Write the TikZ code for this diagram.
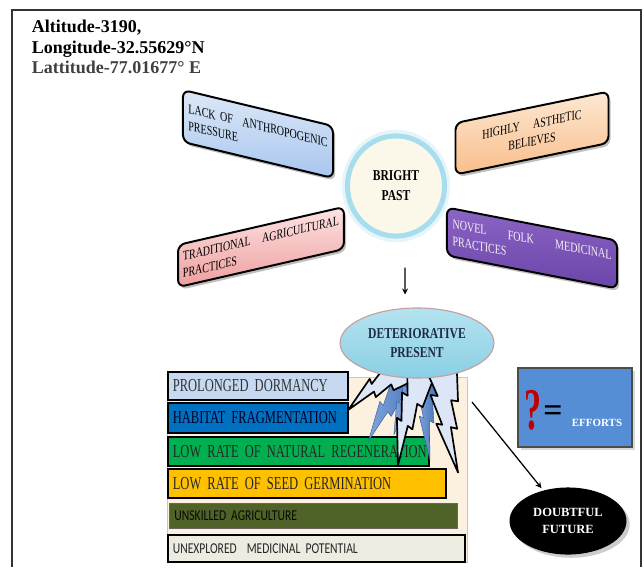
\documentclass[tikz,border=0pt]{standalone}
\usepackage{fontspec}
\setmainfont{Liberation Serif}
\newfontfamily\boxfont[FakeStretch=0.75, WordSpace=0.75]{Liberation Serif}
\newfontfamily\condfont[FakeStretch=0.77]{Liberation Serif}
\newfontfamily\barfont[FakeStretch=0.685, WordSpace=0.7]{Liberation Serif}
\newfontfamily\barsans[FakeStretch=0.77, WordSpace=0.75]{Carlito}
\usetikzlibrary{shapes.geometric,shadows}

\definecolor{lackblue1}{HTML}{DCE8F8}
\definecolor{lackblue2}{HTML}{A9C6EE}
\definecolor{peach1}{HTML}{FDE8D3}
\definecolor{peach2}{HTML}{F8BE8A}
\definecolor{pink1}{HTML}{FDE3E3}
\definecolor{pink2}{HTML}{EE9E9E}
\definecolor{purple1}{HTML}{8B64C4}
\definecolor{purple2}{HTML}{6B45A8}
\definecolor{ivory}{HTML}{FBF8EA}
\definecolor{glowblue}{HTML}{A8DDEE}
\definecolor{detblue1}{HTML}{B4E3F0}
\definecolor{detblue2}{HTML}{8ACFE4}
\definecolor{detnavy}{HTML}{1F2A44}
\definecolor{cream}{HTML}{FCF1DE}
\definecolor{dormblue}{HTML}{C6D9F1}
\definecolor{habblue}{HTML}{0070C0}
\definecolor{regreen}{HTML}{00B050}
\definecolor{seedgold}{HTML}{FFC000}
\definecolor{agrolive}{HTML}{4F6228}
\definecolor{palegray}{HTML}{EEECE1}
\definecolor{effblue}{HTML}{558ED5}
\definecolor{qred}{HTML}{C00000}
\definecolor{zapwhite}{HTML}{DCE6F7}
\definecolor{zapblue}{HTML}{4A80D0}

\begin{document}
\begin{tikzpicture}[x=0.025cm, y=-0.025cm, >=stealth,
    tiltbox/.style={draw=black, line width=1.4pt, rounded corners=5pt, inner xsep=3.5pt,
      drop shadow={opacity=0.5, shadow xshift=1.5pt, shadow yshift=-2pt},
      font=\boxfont\fontsize{9.5}{12}\selectfont},
    barbox/.style={draw=black, line width=1.1pt, anchor=west, inner xsep=3.6pt, inner ysep=0pt,
      align=left, font=\barfont\fontsize{13}{14}\selectfont},
    zapw/.style={fill=zapwhite, draw=black, line width=1.2pt, line join=round},
    zapb/.style={left color=zapblue!70, right color=zapblue!85!black, draw=zapblue!70!black, line width=0.3pt, line join=round}]
    \useasboundingbox (0,0) rectangle (644,567);

    % Frame
    \draw[line width=0.8pt, black!80] (12,567) -- (12,10) -- (641,10) -- (641,567);

    % Site data
    \node[anchor=base west, font=\bfseries\fontsize{12.8}{14.6}\selectfont] (alt) at (27,32) {Altitude-3190,};
    \node[anchor=base west, font=\bfseries\fontsize{12.8}{14.6}\selectfont] (lon) at (27,53) {Longitude-32.55629°N};
    \node[anchor=base west, font=\bfseries\fontsize{12.8}{14.6}\selectfont, text=black!75] (lat) at (27,73) {Lattitude-77.01677° E};

    % Bright past and its four boxes
    \node[tiltbox, yslant=-0.24, top color=lackblue1, bottom color=lackblue2,
      minimum width=106.7pt, minimum height=37pt, text width=99pt, align=left] (lack) at (258,134)
      {LACK OF\hfill ANTHROPOGENIC\\PRESSURE};
    \node[tiltbox, yslant=0.206, top color=peach1, bottom color=peach2,
      minimum width=108.8pt, minimum height=36.6pt, text width=100pt, align=center] (asthetic) at (532,133)
      {HIGHLY\quad ASTHETIC\\BELIEVES};
    \node[tiltbox, yslant=0.229, top color=pink1, bottom color=pink2,
      minimum width=118pt, minimum height=30pt, text width=111pt, align=left] (tradition) at (261,247)
      {TRADITIONAL\hfill AGRICULTURAL\\PRACTICES};
    \node[tiltbox, yslant=-0.194, top color=purple1, bottom color=purple2, text=white!92!purple1,
      minimum width=121pt, minimum height=34.1pt, text width=113pt, align=left] (folk) at (532,248)
      {NOVEL\hfill FOLK\hfill MEDICINAL\\PRACTICES};

    \draw[glowblue!30, line width=6pt] (396,186) ellipse (50 and 52);
    \node[ellipse, fill=ivory, draw=glowblue, line width=3.6pt, inner sep=0pt,
      minimum width=69pt, minimum height=71.2pt, align=center,
      font=\condfont\bfseries\fontsize{10.7}{14.2}\selectfont] (bright) at (396,186) {BRIGHT\\PAST};

    % Causes
    \draw[fill=cream, draw=gray!45] (167,377) rectangle (467,562);
    \node[barbox, fill=dormblue, text=black!80, text width=120.9pt, minimum height=19.9pt] (dorm) at (167,386) {PROLONGED DORMANCY};
    \node[barbox, fill=habblue, text=black!85!blue, text width=120.9pt, minimum height=21.3pt] (habitat) at (167,418) {HABITAT FRAGMENTATION};
    \node[barbox, fill=regreen, text=black!85, text width=178.5pt, minimum height=20.6pt] (regen) at (167,451.5) {\mbox{LOW RATE OF NATURAL REGENERATION}};
    \node[barbox, fill=seedgold, text=black!85, text width=190.6pt, minimum height=20.6pt] (seed) at (167,483.5) {LOW RATE OF SEED GERMINATION};
    \node[barbox, fill=agrolive, draw=black!60, line width=0.6pt, text=black!90!agrolive, text width=197.7pt, minimum height=17.8pt,
      font=\barsans\fontsize{10.7}{13}\selectfont] (agri) at (169,515.5) {UNSKILLED AGRICULTURE};
    \node[barbox, fill=palegray, text=black!85, text width=204.1pt, minimum height=19.2pt,
      font=\barsans\fontsize{10.7}{13}\selectfont] (medic) at (167,548.5) {UNEXPLORED\ \ MEDICINAL POTENTIAL};

    % Efforts
    \node[draw=black!70, fill=effblue, line width=0.8pt, minimum width=81.1pt, minimum height=56.2pt,
      drop shadow={opacity=0.3}] (effort) at (575,407.5) {};
    \node[text=qred, font=\condfont\bfseries\fontsize{42}{42}\selectfont, xscale=0.75] (quest) at (533,410) {?};
    \node[font=\bfseries\fontsize{24}{24}\selectfont] (equal) at (553,414) {=};
    \node[text=white, font=\bfseries\fontsize{7.8}{9}\selectfont] (efftext) at (597,423) {EFFORTS};

    % Lightning
    \foreach \sx/\sy/\ang/\len/\wid in {413/372/237.1/82/85, 420/374/246.7/66/75, 428/368/271.2/92/70}
    {
        \begin{scope}[shift={(\sx,\sy)}, rotate=\ang, xscale=\len, yscale=\wid]
            \path[zapb] (0.05,-0.17) -- (0.35,-0.125) -- (0.33,-0.055) -- (0.60,-0.068) -- (0.575,-0.006) -- (1,0)
                -- (0.52,0.14) -- (0.54,0.08) -- (0.25,0.15) -- (0.27,0.077) -- (-0.05,0.17) -- cycle;
        \end{scope}
    }
    \foreach \sx/\sy/\ang/\len/\wid in {408/366/216.3/74/88, 420/372/256.7/96/85, 440/366/279.6/108/95}
    {
        \begin{scope}[shift={(\sx,\sy)}, rotate=\ang, xscale=\len, yscale=\wid]
            \path[zapw] (0.05,-0.17) -- (0.35,-0.125) -- (0.33,-0.055) -- (0.60,-0.068) -- (0.575,-0.006) -- (1,0)
                -- (0.52,0.14) -- (0.54,0.08) -- (0.25,0.15) -- (0.27,0.077) -- (-0.05,0.17) -- cycle;
        \end{scope}
    }

    % Present and future
    \node[ellipse, top color=detblue1, bottom color=detblue2, draw=red!25!gray!60, line width=0.8pt,
      minimum width=109.5pt, minimum height=49.8pt, align=center, text=detnavy,
      font=\condfont\bfseries\fontsize{10.7}{14}\selectfont] (det) at (417,343) {DETERIORATIVE\\PRESENT};
    \draw[->, line width=0.9pt] ([xshift=6.4pt, yshift=-20.6pt]bright.south) -- ([xshift=-8.5pt, yshift=9.2pt]det.north);

    \node[ellipse, fill=black, minimum width=83.2pt, minimum height=47.7pt, align=center, text=white,
      drop shadow={opacity=0.4}, font=\bfseries\fontsize{8.9}{12.5}\selectfont] (doubt) at (568,521) {DOUBTFUL\\FUTURE};
    \coordinate (fade) at (472,402);
    \draw[->, line width=0.9pt, shorten >=2pt] (fade) -- (doubt);
\end{tikzpicture}
\end{document}
